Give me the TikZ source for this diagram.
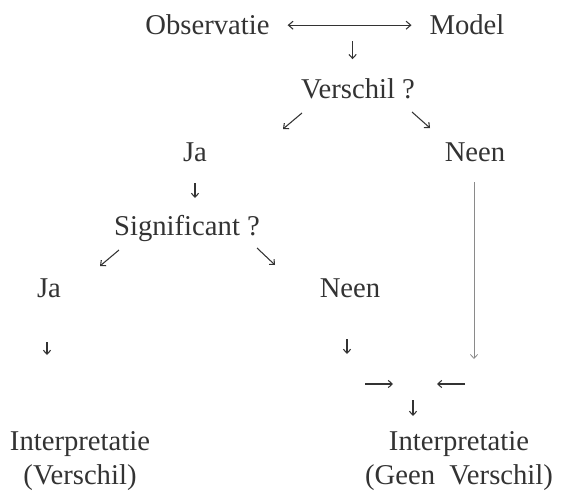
\documentclass[tikz,border=0pt]{standalone}
\usepackage{fontspec}
\setmainfont{Liberation Serif}
\usepackage{tikz}
\usetikzlibrary{arrows.meta, calc}
\definecolor{ink}{HTML}{333333}
\definecolor{faint}{HTML}{8A8A8A}
\tikzset{
  lbl/.style={font=\fontsize{21.5}{25.5}\selectfont, text=ink, anchor=base, align=center},
  arr/.style={-{Straight Barb[length=3pt,width=5.5pt]}, line width=0.8pt, color=ink},
  darr/.style={{Straight Barb[length=3.5pt,width=6pt]}-{Straight Barb[length=3.5pt,width=6pt]}, line width=0.8pt, color=ink},
  garr/.style={-{Straight Barb[length=3pt,width=5.5pt]}, line width=0.6pt, color=faint},
}
\begin{document}
\begin{tikzpicture}[x=0.75pt, y=-0.75pt]
  \useasboundingbox (0,0) rectangle (563,492);

  % Top row
  \node[lbl] (obs) at (207.5,35) {Observatie};
  \node[lbl] (model) at (467,35) {Model};
  \node[lbl] (vers) at (358,98) {Verschil ?};

  % First answer
  \node[lbl] (ja1) at (195,161) {Ja};
  \node[lbl] (neen1) at (475,161) {Neen};
  \node[lbl] (sig) at (187,235) {Significant ?};

  % Second answer
  \node[lbl] (ja2) at (49,297) {Ja};
  \node[lbl] (neen2) at (350,297) {Neen};

  % Conclusions
  \node[lbl] (intl) at (80,484) {Interpretatie\\(Verschil)};
  \node[lbl] (intr) at (459,484) {Interpretatie\\(Geen~~Verschil)};

  \coordinate (link) at ($(obs.east)!0.5!(model.west)$);
  \coordinate (merge) at (413,384);

  \draw[darr, shorten <=10pt, shorten >=10pt] (obs) -- (model);
  \draw[arr] ([shift={(3,16)}]link) -- ++(0,18);
  \draw[arr] ([shift={(-56,15)}]vers.base) -- ++(-19,16);
  \draw[arr] ([shift={(54,14)}]vers.base) -- ++(18,16);
  \draw[arr] ([shift={(0,22)}]ja1.base) -- ++(0,15);
  \draw[garr] ([shift={(-1,21)}]neen1.base) -- ++(0,177);
  \draw[arr] ([shift={(-68,15)}]sig.base) -- ++(-19,16);
  \draw[arr] ([shift={(70,13)}]sig.base) -- ++(18,17);
  \draw[arr] ([shift={(-2,45)}]ja2.base) -- ++(0,13);
  \draw[arr] ([shift={(-3,42)}]neen2.base) -- ++(0,15);
  \draw[arr] ([shift={(-48,0)}]merge) -- ++(28,0);
  \draw[arr] ([shift={(52,0)}]merge) -- ++(-28,0);
  \draw[arr] ([shift={(0,16)}]merge) -- ++(0,16);
\end{tikzpicture}
\end{document}
